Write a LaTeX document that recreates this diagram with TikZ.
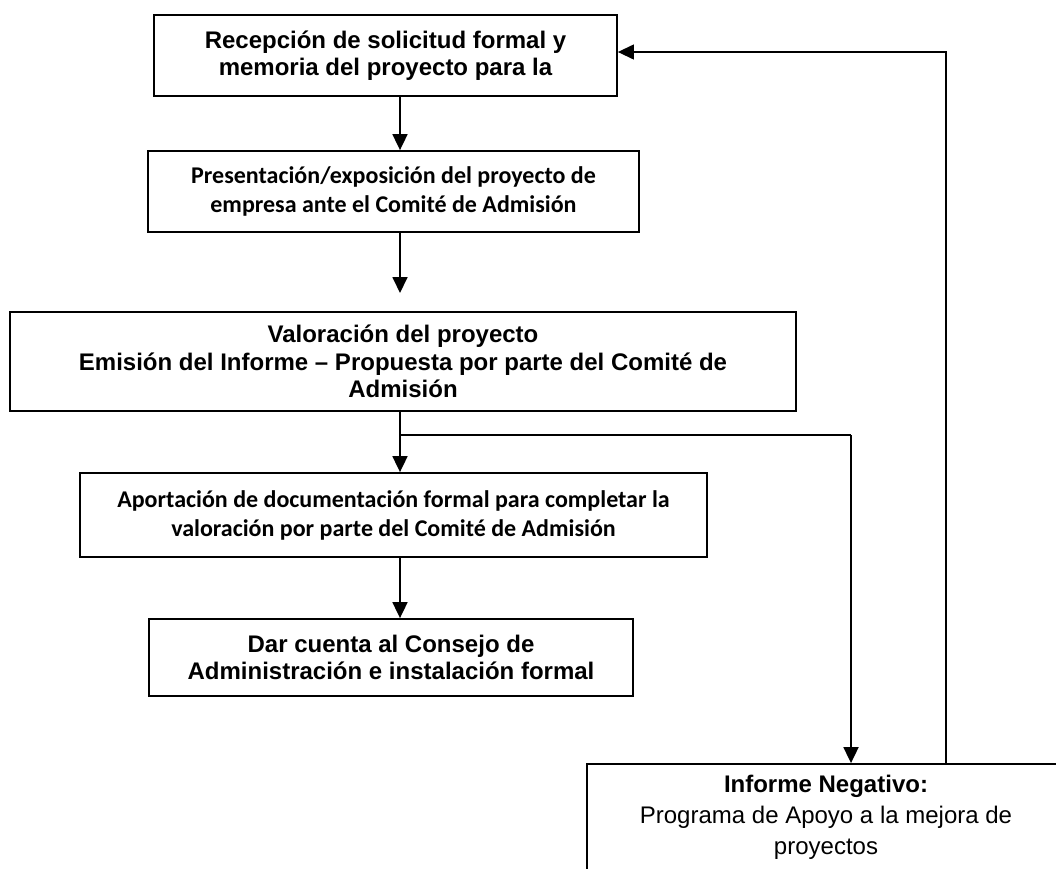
\documentclass[tikz,border=0pt]{standalone}
\usepackage{fontspec}
\setmainfont{Liberation Sans}
\newfontfamily\calib{Carlito}
\usetikzlibrary{arrows.meta}
\begin{document}
\begin{tikzpicture}[x=1pt,y=-1pt,
  box/.style={draw, line width=1.8pt, inner sep=0pt, align=center, anchor=center},
  arr/.style={line width=1.8pt, -{Triangle[length=16pt,width=15pt]}},
  thinarr/.style={line width=1.3pt, -{Triangle[length=16pt,width=15pt]}},
  ar/.style={font=\fontsize{24}{27.6}\selectfont\bfseries},
  ca/.style={font=\calib\fontsize{24}{29}\selectfont\bfseries},
  reg/.style={font=\fontsize{24}{31}\selectfont},
]
\clip (0,0) rectangle (1056,868);
\useasboundingbox (0,0) rectangle (1056,868);

\node[box, ar, minimum width=463pt, minimum height=81pt] (b1) at (385.5,55.5)
  {Recepción de solicitud formal y\\memoria del proyecto para la};
\node[box, ca, minimum width=491pt, minimum height=81pt] (b2) at (393.5,191.5)
  {Presentación/exposición del proyecto de\\empresa ante el Comité de Admisión};
\node[box, ar, minimum width=786pt, minimum height=99pt] (b3) at (403,361.5)
  {Valoración del proyecto\\Emisión del Informe – Propuesta por parte del Comité de\\Admisión};
\node[box, ca, minimum width=627pt, minimum height=84pt] (b4) at (393.5,515)
  {Aportación de documentación formal para completar la\\valoración por parte del Comité de Admisión};
\node[box, ar, minimum width=484pt, minimum height=77pt] (b5) at (391,657.5)
  {Dar cuenta al Consejo de\\Administración e instalación formal};
\node[box, reg, minimum width=478pt, minimum height=106pt] (b6) at (826,817)
  {\textbf{Informe Negativo:}\\Programa de Apoyo a la mejora de\\proyectos};

\coordinate (col) at (400,0);
\coordinate (a2end) at (400,293);
\coordinate (br) at (400,435);
\coordinate (brr) at (851,435);
\coordinate (ret) at (946,52);

\draw[arr] (b1.south -| col) -- (b2.north -| col);
\draw[arr] (b2.south -| col) -- (a2end);
\draw[arr] (b3.south -| col) -- (b4.north -| col);
\draw[line width=1.8pt] (br) -- (brr);
\draw[arr] (brr) -- (brr |- b6.north);
\draw[arr] (b4.south -| col) -- (b5.north -| col);
\draw[thinarr] (b6.north -| ret) -- (ret) -- (ret -| b1.east);
\end{tikzpicture}
\end{document}
